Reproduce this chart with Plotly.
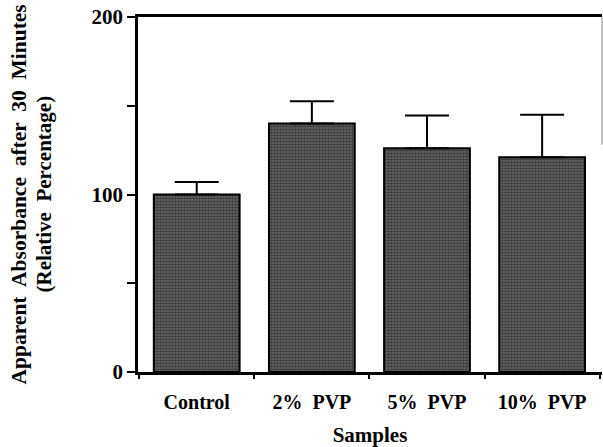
import plotly.graph_objects as go

categories = ["Control", "2%  PVP", "5%  PVP", "10%  PVP"]
values = [100, 140, 126, 121]
errors_plus = [7, 12.5, 18.5, 24]
y_tick_vals = [0, 50, 100, 150, 200]
y_tick_text = ["0", "", "100", "", "200"]

FONT = "Liberation Serif"

fig = go.Figure()
fig.add_trace(go.Bar(
    x=categories,
    y=values,
    width=0.745,
    marker=dict(
        color="#666666",
        line=dict(color="black", width=2),
        pattern=dict(shape=".", fgcolor="#000000", bgcolor="#707070", size=3, solidity=0.6),
    ),
    error_y=dict(type="data", symmetric=False, array=errors_plus, arrayminus=[0]*4,
                 color="black", thickness=2, width=22),
))

fig.update_layout(
    width=603, height=447,
    margin=dict(l=138, r=1, t=17, b=73),
    plot_bgcolor="white", paper_bgcolor="white",
    showlegend=False,
    font=dict(family=FONT, color="black"),
    xaxis=dict(
        range=[-0.51, 3.52],
        showline=True, linecolor="black", linewidth=2.5, mirror=True,
        ticks="outside", tickson="boundaries", ticklen=4, tickwidth=1.5, tickcolor="black",
        tickfont=dict(family=FONT, size=20, weight="bold"),
        ticklabelstandoff=10,
        title=dict(text="Samples", font=dict(family=FONT, size=21, weight="bold"), standoff=19),
        showgrid=False, zeroline=False,
    ),
    yaxis=dict(
        range=[0, 200],
        tickvals=y_tick_vals, ticktext=y_tick_text,
        showline=True, linecolor="black", linewidth=2.5,
        ticks="outside", ticklen=8, tickwidth=1.5, tickcolor="black",
        tickfont=dict(family=FONT, size=21, weight="bold"),
        showgrid=False, zeroline=False,
    ),
    annotations=[
        dict(text="Apparent  Absorbance  after  30  Minutes", xref="paper", yref="paper",
             x=-0.2586, y=0.5, xanchor="center", yanchor="middle", textangle=-90,
             showarrow=False, font=dict(family=FONT, size=21.5, weight="bold")),
        dict(text="(Relative  Percentage)", xref="paper", yref="paper",
             x=-0.2047, y=0.5, xanchor="center", yanchor="middle", textangle=-90,
             showarrow=False, font=dict(family=FONT, size=21, weight="bold")),
    ],
    shapes=[dict(type="line", xref="paper", yref="paper", x0=1, x1=1, y0=0.64, y1=1,
                 line=dict(color="#888888", width=1))],
)

fig.write_html("out.html")
